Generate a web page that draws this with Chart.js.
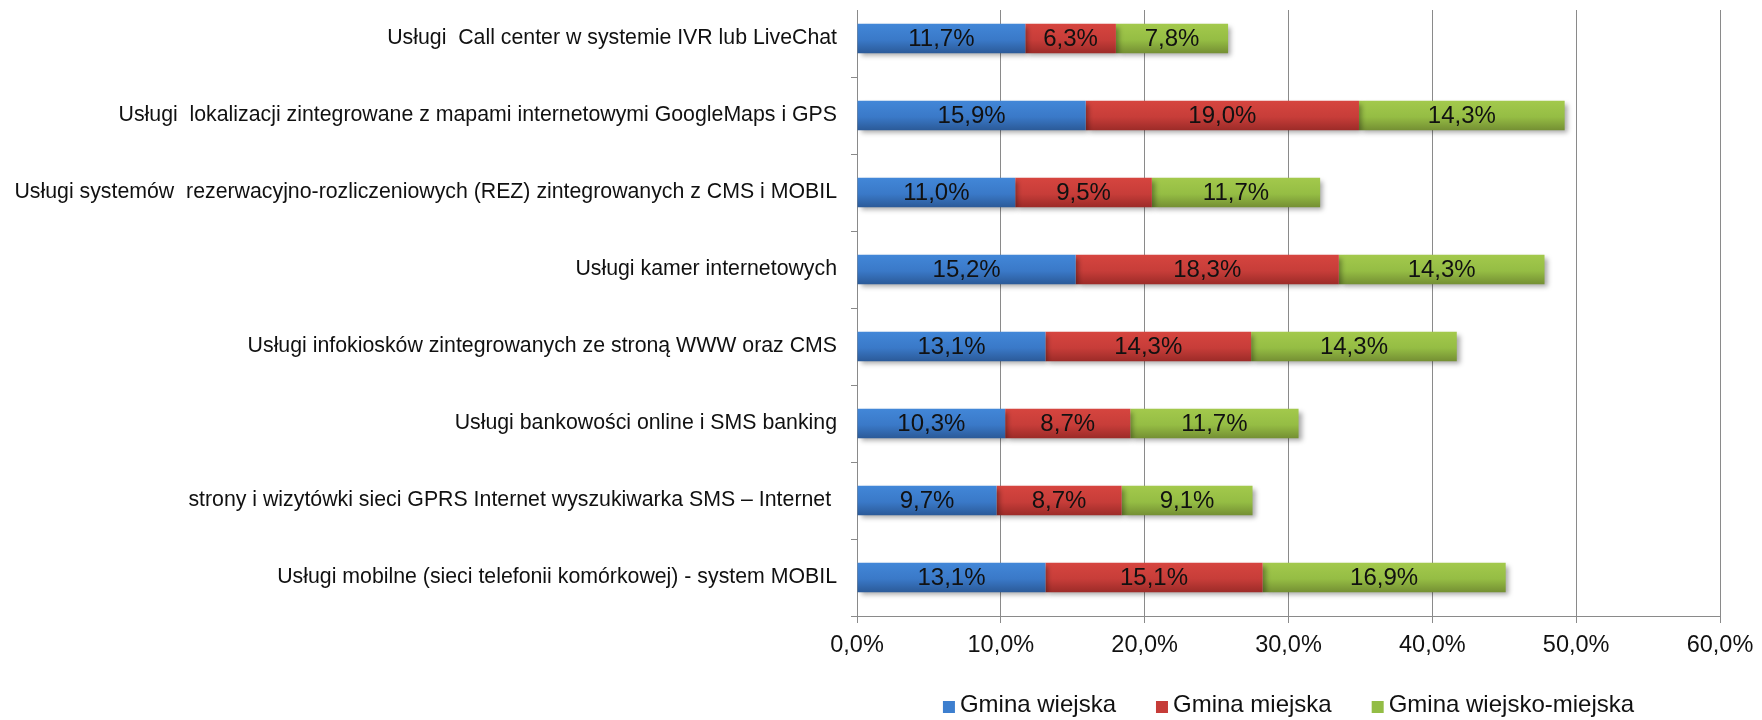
<!DOCTYPE html>
<html>
<head>
<meta charset="utf-8">
<script src="https://cdn.jsdelivr.net/npm/chart.js@4/dist/chart.umd.min.js"></script>
<style>
  html, body { margin: 0; padding: 0; background: #ffffff; }
  #wrap { width: 1762px; height: 720px; position: relative; }
</style>
</head>
<body>
<div id="wrap"><canvas id="c" width="1762" height="720"></canvas></div>
<script>
const categories = [
  'Usługi  Call center w systemie IVR lub LiveChat',
  'Usługi  lokalizacji zintegrowane z mapami internetowymi GoogleMaps i GPS',
  'Usługi systemów  rezerwacyjno-rozliczeniowych (REZ) zintegrowanych z CMS i MOBIL',
  'Usługi kamer internetowych',
  'Usługi infokiosków zintegrowanych ze stroną WWW oraz CMS',
  'Usługi bankowości online i SMS banking',
  'strony i wizytówki sieci GPRS Internet wyszukiwarka SMS – Internet ',
  'Usługi mobilne (sieci telefonii komórkowej) - system MOBIL'
];
const seriesNames = ['Gmina wiejska', 'Gmina miejska', 'Gmina wiejsko-miejska'];
const gminaWiejska = [11.7, 15.9, 11.0, 15.2, 13.1, 10.3, 9.7, 13.1];
const gminaMiejska = [6.3, 19.0, 9.5, 18.3, 14.3, 8.7, 8.7, 15.1];
const gminaWiejskoMiejska = [7.8, 14.3, 11.7, 14.3, 14.3, 11.7, 9.1, 16.9];
const xTickLabels = ['0,0%', '10,0%', '20,0%', '30,0%', '40,0%', '50,0%', '60,0%'];

const FONT = '"Liberation Sans", Arial, sans-serif';
const solidColors = ['#3d7fcf', '#c63c38', '#93bd45'];
const gradStops = [
  ['#4287d8', '#3a79c8', '#2b5a98'],
  ['#d6453f', '#c73d39', '#9c2b28'],
  ['#a3c94c', '#95bd44', '#748f33']
];
const BAR_PCT = 0.385;
const GRID_COLOR = '#8a8a8a';

function gradientFor(seriesIdx) {
  return function (ctx) {
    const chart = ctx.chart;
    const ys = chart.scales && chart.scales.y;
    if (!ys || ctx.dataIndex === undefined || !chart.chartArea) return solidColors[seriesIdx];
    const cy = ys.getPixelForValue(ctx.dataIndex);
    const h = ys.height / categories.length * BAR_PCT;
    const g = chart.ctx.createLinearGradient(0, cy - h / 2, 0, cy + h / 2);
    const s = gradStops[seriesIdx];
    g.addColorStop(0, s[0]);
    g.addColorStop(0.55, s[1]);
    g.addColorStop(1, s[2]);
    return g;
  };
}

function fmt(v) { return v.toFixed(1).replace('.', ',') + '%'; }

const shadowPlugin = {
  id: 'barShadow',
  beforeDatasetsDraw(chart) {
    const c = chart.ctx;
    // blank strip at the very top, as in the source image
    c.save();
    c.fillStyle = '#ffffff';
    c.fillRect(0, 0, chart.width, 10);
    c.restore();
    c.save();
    c.shadowColor = 'rgba(0,0,0,0.35)';
    c.shadowBlur = 5;
    c.shadowOffsetX = 3;
    c.shadowOffsetY = 3;
  },
  afterDatasetsDraw(chart) {
    chart.ctx.restore();
  }
};

const valueLabels = {
  id: 'valueLabels',
  afterDatasetsDraw(chart) {
    const c = chart.ctx;
    c.save();
    c.shadowColor = 'transparent';
    c.font = '24px ' + FONT;
    c.fillStyle = '#111111';
    c.textAlign = 'center';
    c.textBaseline = 'middle';
    chart.data.datasets.forEach((ds, di) => {
      const meta = chart.getDatasetMeta(di);
      meta.data.forEach((el, i) => {
        const x = (el.x + el.base) / 2;
        c.fillText(fmt(ds.data[i]), x, el.y + 1);
      });
    });
    c.restore();
  }
};

const bottomLegend = {
  id: 'bottomLegend',
  afterDraw(chart) {
    const c = chart.ctx;
    const area = chart.chartArea;
    c.save();
    c.font = '24px ' + FONT;
    c.textBaseline = 'middle';
    c.textAlign = 'left';
    const box = 12, gapBox = 5, gapItem = 40;
    const items = chart.data.datasets.map((ds, i) => ({ text: ds.label, color: solidColors[i], w: c.measureText(ds.label).width }));
    let total = 0;
    items.forEach((it, i) => { total += box + gapBox + it.w + (i < items.length - 1 ? gapItem : 0); });
    let x = (area.left + area.right) / 2 - total / 2;
    const y = 705;
    items.forEach(it => {
      c.fillStyle = it.color;
      c.fillRect(x, y - box / 2 + 2, box, box);
      x += box + gapBox;
      c.fillStyle = '#111111';
      c.fillText(it.text, x, y);
      x += it.w + gapItem;
    });
    c.restore();
  }
};

const datasets = [gminaWiejska, gminaMiejska, gminaWiejskoMiejska].map((arr, i) => ({
  label: seriesNames[i],
  data: arr,
  backgroundColor: gradientFor(i),
  borderWidth: 0,
  barPercentage: BAR_PCT,
  categoryPercentage: 1.0
}));

new Chart(document.getElementById('c'), {
  type: 'bar',
  data: { labels: categories, datasets: datasets },
  options: {
    indexAxis: 'y',
    responsive: false,
    animation: false,
    devicePixelRatio: 1,
    layout: { padding: { left: 0, right: 42, top: -13, bottom: 44 } },
    plugins: {
      legend: { display: false },
      tooltip: { enabled: false }
    },
    scales: {
      x: {
        stacked: true,
        min: 0,
        max: 60,
        ticks: {
          stepSize: 10,
          color: '#111111',
          font: { family: FONT, size: 23.5 },
          padding: 8,
          maxRotation: 0,
          callback: (v, i) => xTickLabels[i]
        },
        grid: { color: GRID_COLOR, lineWidth: 1, tickLength: 7, drawTicks: true },
        border: { color: GRID_COLOR, width: 1 },
        afterFit(s) { s.height = 60; s.paddingLeft = 0; s.paddingRight = 0; }
      },
      y: {
        stacked: true,
        ticks: {
          color: '#111111',
          font: { family: FONT, size: 21.3 },
          padding: 14,
          autoSkip: false
        },
        grid: { offset: true, drawOnChartArea: false, tickLength: 6, color: GRID_COLOR },
        border: { color: GRID_COLOR, width: 1 },
        afterFit(s) { s.width = 857; s.paddingTop = 0; s.paddingBottom = 0; }
      }
    }
  },
  plugins: [shadowPlugin, valueLabels, bottomLegend]
});
</script>
</body>
</html>
